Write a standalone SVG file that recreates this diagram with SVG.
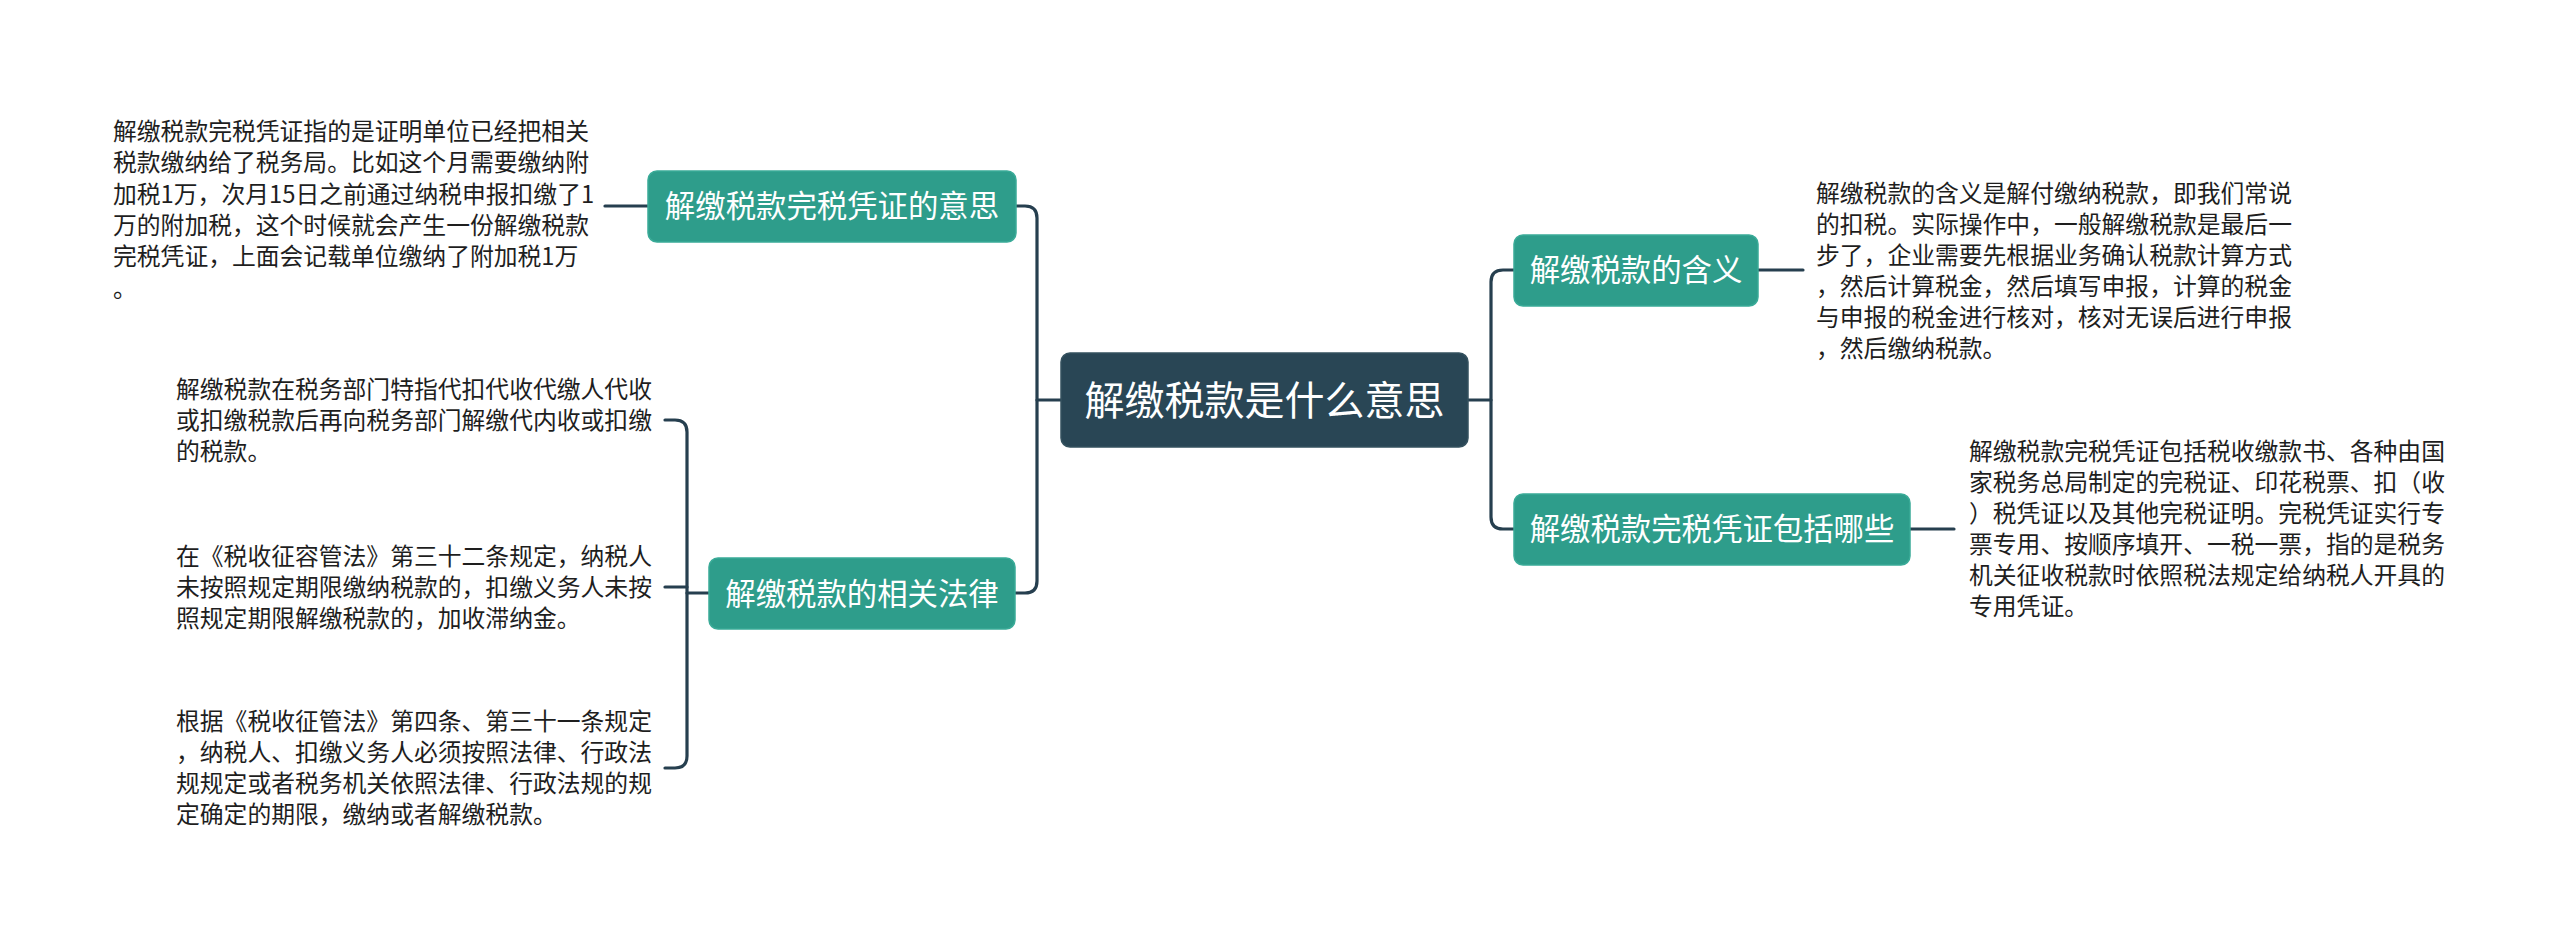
<svg xmlns="http://www.w3.org/2000/svg" width="2560" height="944" viewBox="0 0 2560 944">
<style>
.bg{fill:#ffffff}
.conn{fill:none;stroke:#263f4f;stroke-width:3.2;stroke-linecap:round;stroke-linejoin:round}
.root{fill:#294655;stroke:#35525f;stroke-width:1.5}
.topic{fill:#2e9d8b;stroke:#3aab98;stroke-width:1.5}
.rt{font-family:"Noto Sans CJK SC","Noto Sans",sans-serif;font-size:40px;fill:#ffffff;text-anchor:middle}
.tt{font-family:"Noto Sans CJK SC","Noto Sans",sans-serif;font-size:30.4px;fill:#ffffff;text-anchor:middle}
.nt{font-family:"Noto Sans CJK SC","Noto Sans",sans-serif;font-size:23.8px;fill:#1e1e1e}
</style>
<rect class="bg" x="0" y="0" width="2560" height="944"/>
<g id="connectors">
<path class="conn" d="M1061,400 H1037"/>
<path class="conn" d="M1016,206 H1025 Q1037,206 1037,218 V581 Q1037,593 1025,593 H1015"/>
<path class="conn" d="M1468,400 H1491"/>
<path class="conn" d="M1514,270 H1503 Q1491,270 1491,282 V517 Q1491,529 1503,529 H1514"/>
<path class="conn" d="M648,206 H605"/>
<path class="conn" d="M709,593 H687"/>
<path class="conn" d="M665,420 H675 Q687,420 687,432 V756 Q687,768 675,768 H665"/>
<path class="conn" d="M665,587 H687"/>
<path class="conn" d="M1758,270 H1803"/>
<path class="conn" d="M1910,529 H1954"/>
</g>
<g id="root">
<rect class="root" x="1061" y="353" width="407" height="94" rx="9"/>
<text class="rt" x="1264.5" y="414.5">解缴税款是什么意思</text>
</g>
<g id="topic-meaning-voucher">
<rect class="topic" x="648" y="171" width="368" height="71" rx="9"/>
<text class="tt" x="832" y="217">解缴税款完税凭证的意思</text>
</g>
<g id="topic-law">
<rect class="topic" x="709" y="558" width="306" height="71" rx="9"/>
<text class="tt" x="862" y="604.5">解缴税款的相关法律</text>
</g>
<g id="topic-meaning">
<rect class="topic" x="1514" y="235" width="244" height="71" rx="9"/>
<text class="tt" x="1636" y="281">解缴税款的含义</text>
</g>
<g id="topic-includes">
<rect class="topic" x="1514" y="494" width="396" height="71" rx="9"/>
<text class="tt" x="1712" y="540">解缴税款完税凭证包括哪些</text>
</g>
<g id="note-voucher">
<text class="nt" x="113" y="140">解缴税款完税凭证指的是证明单位已经把相关</text>
<text class="nt" x="113" y="171.3">税款缴纳给了税务局。比如这个月需要缴纳附</text>
<text class="nt" x="113" y="202.6">加税1万，次月15日之前通过纳税申报扣缴了1</text>
<text class="nt" x="113" y="233.9">万的附加税，这个时候就会产生一份解缴税款</text>
<text class="nt" x="113" y="265.2">完税凭证，上面会记载单位缴纳了附加税1万</text>
<text class="nt" x="113" y="296.5">。</text>
</g>
<g id="note-law-1">
<text class="nt" x="176" y="397.5">解缴税款在税务部门特指代扣代收代缴人代收</text>
<text class="nt" x="176" y="428.5">或扣缴税款后再向税务部门解缴代内收或扣缴</text>
<text class="nt" x="176" y="459.5">的税款。</text>
</g>
<g id="note-law-2">
<text class="nt" x="176" y="564.5">在《税收征容管法》第三十二条规定，纳税人</text>
<text class="nt" x="176" y="595.5">未按照规定期限缴纳税款的，扣缴义务人未按</text>
<text class="nt" x="176" y="626.5">照规定期限解缴税款的，加收滞纳金。</text>
</g>
<g id="note-law-3">
<text class="nt" x="176" y="730">根据《税收征管法》第四条、第三十一条规定</text>
<text class="nt" x="176" y="761">，纳税人、扣缴义务人必须按照法律、行政法</text>
<text class="nt" x="176" y="792">规规定或者税务机关依照法律、行政法规的规</text>
<text class="nt" x="176" y="823">定确定的期限，缴纳或者解缴税款。</text>
</g>
<g id="note-meaning">
<text class="nt" x="1816" y="201.5">解缴税款的含义是解付缴纳税款，即我们常说</text>
<text class="nt" x="1816" y="232.5">的扣税。实际操作中，一般解缴税款是最后一</text>
<text class="nt" x="1816" y="263.5">步了，企业需要先根据业务确认税款计算方式</text>
<text class="nt" x="1816" y="294.5">，然后计算税金，然后填写申报，计算的税金</text>
<text class="nt" x="1816" y="325.5">与申报的税金进行核对，核对无误后进行申报</text>
<text class="nt" x="1816" y="356.5">，然后缴纳税款。</text>
</g>
<g id="note-includes">
<text class="nt" x="1969" y="460">解缴税款完税凭证包括税收缴款书、各种由国</text>
<text class="nt" x="1969" y="491">家税务总局制定的完税证、印花税票、扣（收</text>
<text class="nt" x="1969" y="522">）税凭证以及其他完税证明。完税凭证实行专</text>
<text class="nt" x="1969" y="553">票专用、按顺序填开、一税一票，指的是税务</text>
<text class="nt" x="1969" y="584">机关征收税款时依照税法规定给纳税人开具的</text>
<text class="nt" x="1969" y="615">专用凭证。</text>
</g>
</svg>
